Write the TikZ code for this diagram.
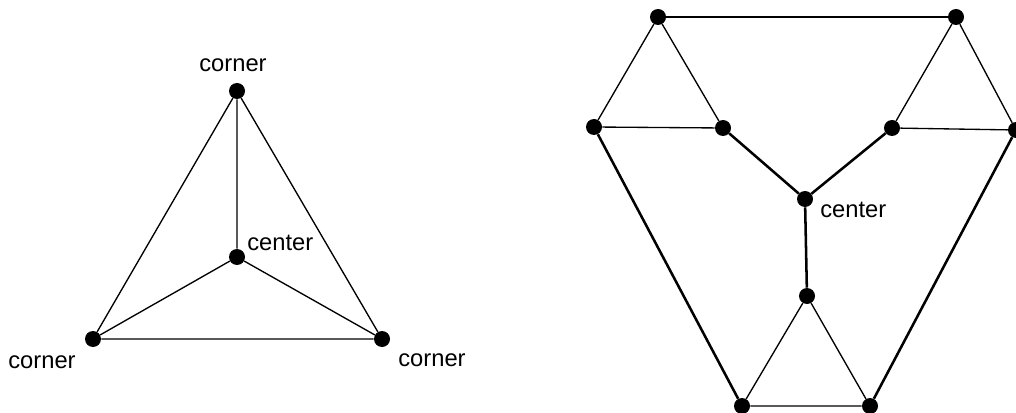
\documentclass[tikz,border=0pt]{standalone}
\usepackage{fontspec}
\setmainfont{Liberation Sans}
\begin{document}
\begin{tikzpicture}[x=0.75pt,y=-0.75pt,
  dot/.style={circle,fill=black,inner sep=0pt,minimum size=12pt},
  lbl/.style={inner sep=0pt,font=\fontsize{17.8}{20}\selectfont},
  thin edge/.style={line width=1.0pt},
  thick edge/.style={line width=1.9pt}]
\useasboundingbox (0,0) rectangle (1016,413);
\clip (0,0) rectangle (1016,413);
% left graph
\node[dot] (t) at (237,91) {};
\node[dot] (c) at (237,257) {};
\node[dot] (bl) at (93,339) {};
\node[dot] (br) at (382,339) {};
\draw[thin edge] (t) -- (bl) -- (br) -- (t) -- (c);
\draw[thin edge] (c) -- (bl) (c) -- (br);
\node[lbl] (lt) at (233,65) {corner};
\node[lbl,anchor=west] (lc) at (247,243) {center};
\node[lbl] (lbl1) at (42,362) {corner};
\node[lbl] (lbr) at (432,360) {corner};
% right graph
\node[dot] (A) at (658,17) {};
\node[dot] (B) at (956,17) {};
\node[dot] (C) at (594,127) {};
\node[dot] (D) at (723,128) {};
\node[dot] (E) at (892,128) {};
\node[dot] (F) at (1016,130) {};
\node[dot] (G) at (805,199) {};
\node[dot] (H) at (807,296) {};
\node[dot] (I) at (742,406) {};
\node[dot] (J) at (870,406) {};
\draw[thick edge] (A) -- (B);
\draw[thick edge] (C) -- (I);
\draw[thick edge] (F) -- (J);
\draw[thick edge] (D) -- (G) -- (E);
\draw[thick edge] (G) -- (H);
\draw[thin edge] (A) -- (C) -- (D) -- (A);
\draw[thin edge] (B) -- (E) -- (F) -- (B);
\draw[thin edge] (H) -- (I) -- (J) -- (H);
\node[lbl,anchor=west] (rc) at (820,210) {center};
\end{tikzpicture}
\end{document}
